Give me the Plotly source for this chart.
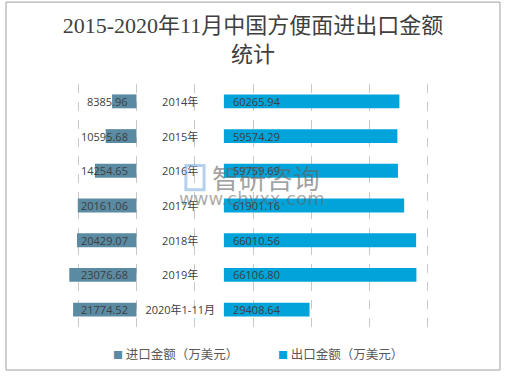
import plotly.graph_objects as go

categories = ["2014年", "2015年", "2016年", "2017年", "2018年", "2019年", "2020年1-11月"]
import_vals = [8385.96, 10595.68, 14254.65, 20161.06, 20429.07, 23076.68, 21774.52]
export_vals = [60265.94, 59574.29, 59759.69, 61901.16, 66010.56, 66106.80, 29408.64]
import_name = "进口金额（万美元）"
export_name = "出口金额（万美元）"

# layout of the mirrored chart in axis units
import_anchor = 40000   # import bars end here (grow leftwards)
gap = 30000             # space for the category labels
export_start = import_anchor + gap
axis_max = 160000

c_imp = "#5A8BA3"
c_exp = "#00A3DA"
txt = "#404040"
lab_font = dict(family="Open Sans, Noto Sans CJK SC, sans-serif", size=11, color=txt)

fig = go.Figure()
fig.add_trace(go.Bar(
    y=categories, x=import_vals, base=[import_anchor - v for v in import_vals],
    orientation="h", name=import_name, marker_color=c_imp, marker_line_width=0, hoverinfo="skip"))
fig.add_trace(go.Bar(
    y=categories, x=[gap] * len(categories), base=[import_anchor] * len(categories),
    orientation="h", name="", marker_color="rgba(0,0,0,0)", marker_line_width=0,
    text=categories, textposition="inside", insidetextanchor="middle",
    constraintext="none", textfont=lab_font, hoverinfo="skip"))
fig.add_trace(go.Bar(
    y=categories, x=export_vals, base=[export_start] * len(categories),
    orientation="h", name=export_name, marker_color=c_exp, marker_line_width=0, hoverinfo="skip"))

for c, v in zip(categories, import_vals):
    fig.add_annotation(x=import_anchor, y=c, text=f"{v:.2f}", showarrow=False,
                       xanchor="right", xshift=-7, font=lab_font)
for c, v in zip(categories, export_vals):
    fig.add_annotation(x=export_start, y=c, text=f"{v:.2f}", showarrow=False,
                       xanchor="left", xshift=7, font=lab_font)

# legend drawn as text items
leg_font = dict(family="Noto Sans CJK SC", size=12.5, color="#595959")
for xp, name, col in [(0.195, import_name, c_imp), (0.549, export_name, c_exp)]:
    fig.add_annotation(x=xp, y=-0.107, xref="paper", yref="paper", showarrow=False,
                       xanchor="left", yanchor="middle", font=leg_font,
                       text=f"<span style='color:{col};font-size:10px'>■</span> {name}")

# watermark
fig.add_annotation(x=0.528, y=0.617, xref="paper", yref="paper", text="智研咨询",
                   showarrow=False, font=dict(family="Noto Sans CJK SC", size=27, color="rgba(100,100,100,0.6)"),
                   xanchor="center", yanchor="middle")
fig.add_annotation(x=0.498, y=0.527, xref="paper", yref="paper", text="www.chyxx.com",
                   showarrow=False, font=dict(family="DejaVu Sans", size=18, color="rgba(100,100,100,0.55)"),
                   xanchor="center", yanchor="middle")
fig.add_shape(type="rect", xref="paper", yref="paper", x0=0.356, x1=0.395, y0=0.565, y1=0.665,
              line=dict(color="rgba(120,170,220,0.55)", width=3), fillcolor="rgba(0,0,0,0)")

# outer border
fig.add_shape(type="rect", xref="paper", yref="paper", x0=-0.03, x1=1.03, y0=-0.177, y1=1.337,
              line=dict(color="#A0A0A0", width=1), fillcolor="rgba(0,0,0,0)", layer="below")

fig.update_layout(
    width=506, height=376,
    margin=dict(l=20, r=20, t=84, b=49, autoexpand=False),
    paper_bgcolor="white", plot_bgcolor="white",
    barmode="overlay", bargap=0.6,
    showlegend=False,
    title=dict(text="2015-2020年11月中国方便面进出口金额<br>统计", x=0.5, xanchor="center",
               y=0.912, yanchor="middle", yref="container",
               font=dict(family="Liberation Serif, Noto Sans CJK SC, serif", size=22, color=txt)),
    xaxis=dict(range=[0, axis_max], dtick=20000, showticklabels=False, showgrid=True,
               gridcolor="#C8C8C8", griddash="dash", gridwidth=1, zeroline=False, showline=False,
               automargin=False),
    yaxis=dict(autorange="reversed", showticklabels=False, showgrid=False, zeroline=False,
               automargin=False),
)

fig.write_html("out.html", config={"displayModeBar": False},
               post_script="document.body.style.margin='0';document.body.style.overflow='hidden';")
